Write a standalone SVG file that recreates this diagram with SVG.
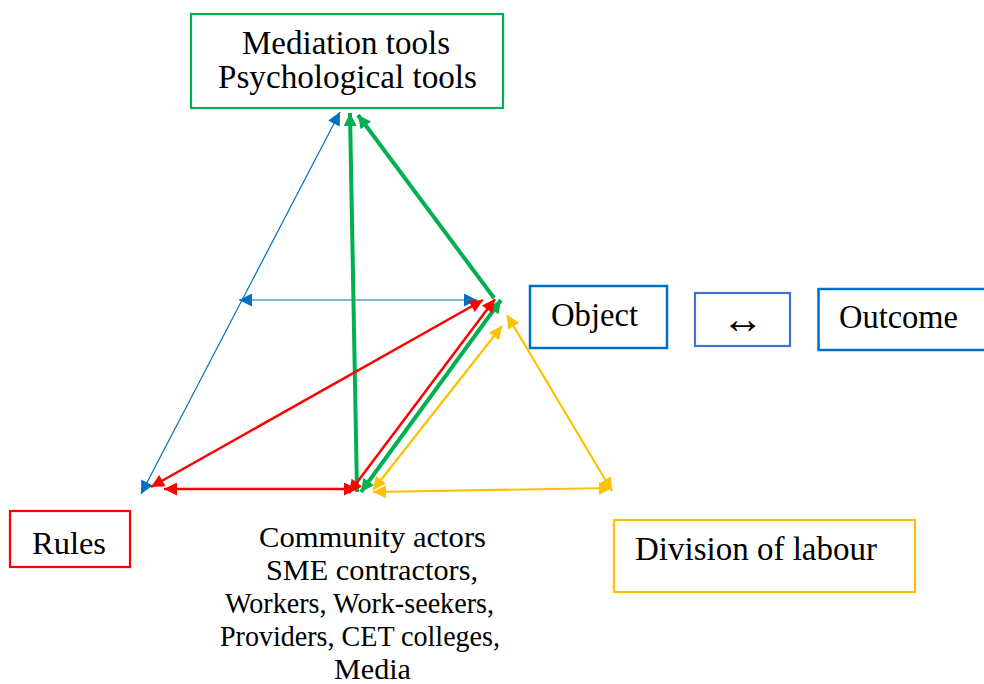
<svg xmlns="http://www.w3.org/2000/svg" width="984" height="684" viewBox="0 0 984 684">
  <style>
    .box { fill: #ffffff; }
    .lbl { fill: #000000; }
    .ln { fill: none; stroke-linecap: butt; }
    .blue { stroke: #0070C0; stroke-width: 1.2; }
    .red { stroke: #FF0000; stroke-width: 2.5; }
    .green { stroke: #00B050; stroke-width: 4; }
    .yellow { stroke: #FFC000; stroke-width: 2.2; }
  </style>
  <defs>
    <marker id="hBlue" viewBox="0 0 10 10" refX="10" refY="5" markerWidth="15" markerHeight="13" markerUnits="userSpaceOnUse" orient="auto-start-reverse">
      <path d="M0,0 L10,5 L0,10 z" fill="#0070C0"/>
    </marker>
    <marker id="hRed" viewBox="0 0 10 10" refX="10" refY="5" markerWidth="15" markerHeight="13" markerUnits="userSpaceOnUse" orient="auto-start-reverse">
      <path d="M0,0 L10,5 L0,10 z" fill="#FF0000"/>
    </marker>
    <marker id="hGreen" viewBox="0 0 10 10" refX="10" refY="5" markerWidth="15" markerHeight="13" markerUnits="userSpaceOnUse" orient="auto-start-reverse">
      <path d="M0,0 L10,5 L0,10 z" fill="#00B050"/>
    </marker>
    <marker id="hYellow" viewBox="0 0 10 10" refX="10" refY="5" markerWidth="15" markerHeight="13" markerUnits="userSpaceOnUse" orient="auto-start-reverse">
      <path d="M0,0 L10,5 L0,10 z" fill="#FFC000"/>
    </marker>
  </defs>

  <g id="connectors">
    <!-- blue: rules to tools, inner horizontal -->
    <line class="ln blue" x1="141" y1="494" x2="340" y2="112" marker-start="url(#hBlue)" marker-end="url(#hBlue)"/>
    <line class="ln blue" x1="239" y1="300" x2="477" y2="300" marker-start="url(#hBlue)" marker-end="url(#hBlue)"/>
    <!-- green: tools links -->
    <line class="ln green" x1="357" y1="492" x2="350" y2="113" marker-end="url(#hGreen)"/>
    <line class="ln green" x1="494" y1="298" x2="358" y2="115" marker-end="url(#hGreen)"/>
    <line class="ln green" x1="361" y1="492" x2="501" y2="300" marker-start="url(#hGreen)" marker-end="url(#hGreen)"/>
    <!-- red: rules links -->
    <line class="ln red" x1="151" y1="487" x2="483" y2="300" marker-start="url(#hRed)" marker-end="url(#hRed)"/>
    <line class="ln red" x1="164" y1="489" x2="357" y2="489" marker-start="url(#hRed)" marker-end="url(#hRed)"/>
    <line class="ln red" x1="349" y1="493" x2="495" y2="299" marker-start="url(#hRed)" marker-end="url(#hRed)"/>
    <!-- yellow: division of labour links -->
    <line class="ln yellow" x1="373" y1="490" x2="502" y2="326" marker-start="url(#hYellow)" marker-end="url(#hYellow)"/>
    <line class="ln yellow" x1="507" y1="315" x2="612" y2="491" marker-start="url(#hYellow)" marker-end="url(#hYellow)"/>
    <line class="ln yellow" x1="373" y1="492" x2="612" y2="488" marker-start="url(#hYellow)" marker-end="url(#hYellow)"/>
  </g>

  <g id="tools" font-family="'Liberation Serif', 'Times New Roman', serif">
    <rect class="box" x="191" y="14" width="312" height="94" stroke="#00B050" stroke-width="2.2"/>
    <text class="lbl" x="242" y="54" font-size="33" textLength="208" lengthAdjust="spacingAndGlyphs">Mediation tools</text>
    <text class="lbl" x="218" y="88" font-size="33" textLength="259" lengthAdjust="spacingAndGlyphs">Psychological tools</text>
  </g>

  <g id="object" font-family="'Liberation Serif', 'Times New Roman', serif">
    <rect class="box" x="530" y="286" width="137" height="62" stroke="#0070C0" stroke-width="2.5"/>
    <text class="lbl" x="551" y="326" font-size="33" textLength="87" lengthAdjust="spacingAndGlyphs">Object</text>
  </g>

  <g id="transition" font-family="'Liberation Serif', 'Times New Roman', serif">
    <rect class="box" x="695" y="293" width="95" height="53" stroke="#4472C4" stroke-width="2.2"/>
    <text class="lbl" x="742.5" y="333" font-size="42" text-anchor="middle">↔</text>
  </g>

  <g id="outcome" font-family="'Liberation Serif', 'Times New Roman', serif">
    <rect class="box" x="818.5" y="289" width="180" height="61" stroke="#0070C0" stroke-width="2.5"/>
    <text class="lbl" x="839" y="328" font-size="33" textLength="119" lengthAdjust="spacingAndGlyphs">Outcome</text>
  </g>

  <g id="rules" font-family="'Liberation Serif', 'Times New Roman', serif">
    <rect class="box" x="10" y="511" width="120" height="56" stroke="#FF0000" stroke-width="2.2"/>
    <text class="lbl" x="32" y="554" font-size="32" textLength="74" lengthAdjust="spacingAndGlyphs">Rules</text>
  </g>

  <g id="community" font-family="'Liberation Serif', 'Times New Roman', serif">
    <text class="lbl" x="259" y="547" font-size="30" textLength="227" lengthAdjust="spacingAndGlyphs">Community actors</text>
    <text class="lbl" x="266" y="580" font-size="30" textLength="212" lengthAdjust="spacingAndGlyphs">SME contractors,</text>
    <text class="lbl" x="225" y="613" font-size="30" textLength="269" lengthAdjust="spacingAndGlyphs">Workers, Work-seekers,</text>
    <text class="lbl" x="220" y="646" font-size="30" textLength="280" lengthAdjust="spacingAndGlyphs">Providers, CET colleges,</text>
    <text class="lbl" x="334" y="679" font-size="30" textLength="77" lengthAdjust="spacingAndGlyphs">Media</text>
  </g>

  <g id="division" font-family="'Liberation Serif', 'Times New Roman', serif">
    <rect class="box" x="614" y="520" width="301" height="72" stroke="#FFC000" stroke-width="2.2"/>
    <text class="lbl" x="635" y="560" font-size="33" textLength="242" lengthAdjust="spacingAndGlyphs">Division of labour</text>
  </g>
</svg>
